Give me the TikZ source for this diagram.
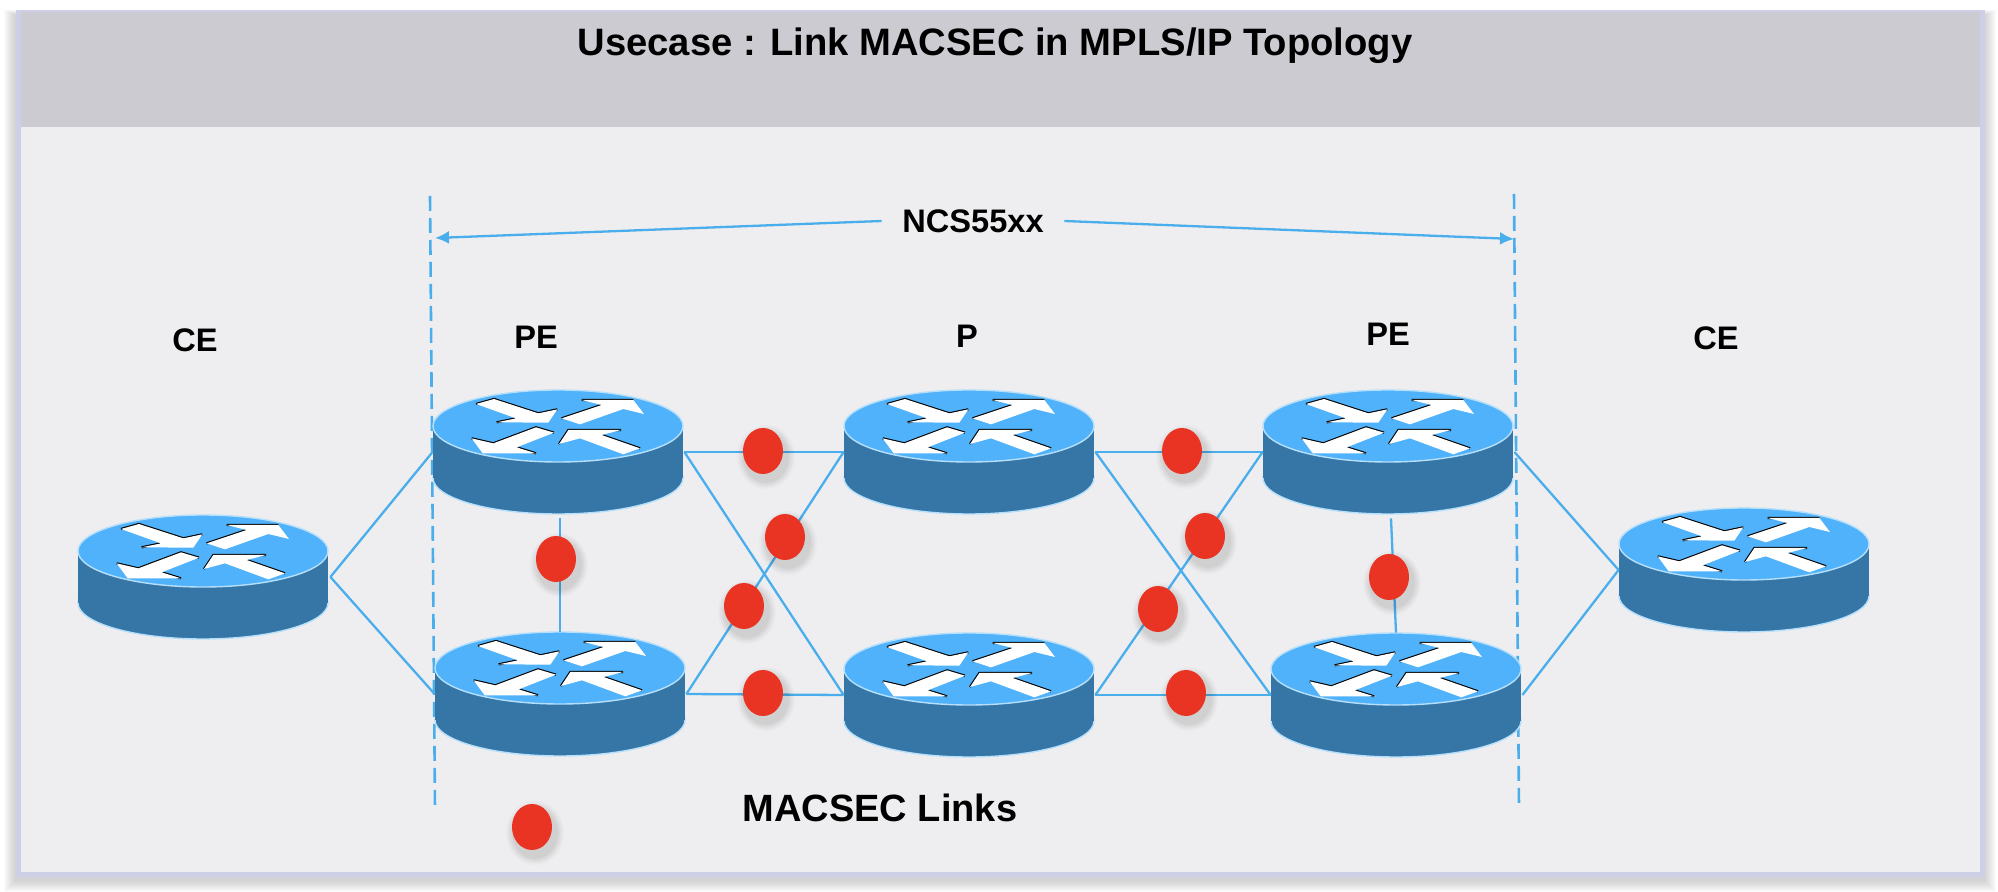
\documentclass[tikz,border=0pt]{standalone}
\usepackage{fontspec}
\setmainfont{Liberation Sans}
\usetikzlibrary{arrows.meta}
\definecolor{rtop}{HTML}{50B2FA}
\definecolor{rside}{HTML}{3576A7}
\definecolor{redge}{HTML}{B5DFFA}
\definecolor{lnk}{HTML}{4BAEEC}
\definecolor{dotred}{HTML}{EA3423}
\definecolor{hdr}{HTML}{CBCBD1}
\definecolor{bodybg}{HTML}{EEEEF0}
\definecolor{frm}{HTML}{CDCFE6}
\tikzset{
  routerbox/.style={inner sep=0pt,minimum width=125pt,minimum height=62pt},
  lbl/.style={font=\bfseries\fontsize{16.3}{18}\selectfont,inner sep=0pt},
  wire/.style={draw=lnk,line width=1.15pt},
  dashline/.style={draw=lnk,line width=1.3pt,dash pattern=on 7.5pt off 3.5pt},
  dim/.style={draw=lnk,line width=1.15pt,-{Latex[length=7pt,width=6.5pt]}},
  arrowfill/.style={fill=white},
  arrowedge/.style={draw=black,line width=1.1pt},
}
\newcommand{\router}[3]{%
  \node[routerbox] (#1) at (#2,#3) {};
  \begin{scope}[shift={(#2,#3)}]
    \fill[rside,draw=redge,line width=.7pt] (0,26) ellipse [x radius=125,y radius=36];
    \fill[rside] (-125,-26) rectangle (125,26);
    \fill[rtop,draw=redge,line width=.7pt] (0,-26) ellipse [x radius=125,y radius=36];
    \begin{scope}[shift={(-98,-67)},scale=1/3]
      \draw[arrowedge] (48,57)--(102,42)--(235,85)--(292,73) (110,112)--(168,100);
      \draw[arrowedge] (305,100)--(425,60) (365,45)--(520,45);
      \draw[arrowedge] (35,160)--(100,175)--(228,127)--(282,143) (170,187)--(228,205);
      \draw[arrowedge] (297,177)--(325,135)--(483,135) (425,150)--(540,190);
      \fill[arrowfill] (48,57)--(102,42)--(235,85)--(292,73)--(265,113)--(110,112)--(168,100)--cycle;
      \fill[arrowfill] (305,100)--(425,60)--(365,45)--(520,45)--(552,87)--(490,72)--(360,118)--cycle;
      \fill[arrowfill] (228,127)--(282,143)--(170,187)--(228,205)--(68,205)--(35,160)--(100,175)--cycle;
      \fill[arrowfill] (297,177)--(325,135)--(483,135)--(425,150)--(540,190)--(490,208)--(360,160)--cycle;
    \end{scope}
  \end{scope}
}
\newcommand{\reddot}[3]{%
  \foreach \e/\o in {9/.02,7/.03,5/.035,3/.04}{
    \fill[black,opacity=\o] (#2+3,#3+6) ellipse [x radius=20+\e,y radius=23+\e];
  }
  \node[inner sep=0pt,minimum size=0pt] (#1) at (#2,#3) {};
  \fill[dotred] (#1) ellipse [x radius=20,y radius=23];
}
\begin{document}
\begin{tikzpicture}[x=0.5pt,y=-0.5pt]
  \useasboundingbox (0,0) rectangle (1998,892);
  % frame and its soft shadow
  \foreach \e in {1,2,...,12}{
    \fill[black,opacity=.016] (16-\e,16-\e/2) rectangle (1984+\e,880+\e);
  }
  \fill[frm] (16,10) rectangle (1985,877);
  \fill[bodybg] (21,127) rectangle (1980,872);
  \fill[hdr] (21,12) rectangle (1980,127);
  \node[font=\bfseries\fontsize{19.1}{21}\selectfont,inner sep=0pt] (title) at (995,46) {Usecase : Link MACSEC in MPLS/IP Topology};

  % extent of the NCS55xx routers
  \coordinate (dlt) at (430,196);
  \coordinate (dlb) at (435,810);
  \coordinate (drt) at (1514,194);
  \coordinate (drb) at (1519,808);
  \draw[dashline] (dlt) -- (dlb);
  \draw[dashline] (drt) -- (drb);
  \node[lbl,minimum width=91pt,minimum height=20pt] (ncs) at (973,221) {NCS55xx};
  \coordinate (al) at (435,238);
  \coordinate (ar) at (1514,239);
  \draw[dim] (ncs.west) -- (al);
  \draw[dim] (ncs.east) -- (ar);

  % routers
  \router{cea}{203}{577}
  \router{pea}{558}{452}
  \router{pa}{969}{452}
  \router{peb}{1388}{452}
  \router{ceb}{1744}{570}
  \router{pec}{560}{694}
  \router{pb}{969}{695}
  \router{ped}{1396}{695}

  % links
  \draw[wire] ([xshift=1pt]cea.east) -- (pea.west);
  \draw[wire] ([xshift=1pt]cea.east) -- (pec.west);
  \draw[wire] ([xshift=.5pt]pea.east) -- (pa.west);
  \draw[wire] ([xshift=.5pt]pea.east) -- (pb.west);
  \draw[wire] ([xshift=.5pt]pec.east) -- (pa.west);
  \draw[wire] ([xshift=.5pt]pec.east) -- (pb.west);
  \draw[wire] ([xshift=.5pt]pa.east) -- (peb.west);
  \draw[wire] ([xshift=.5pt]pa.east) -- (ped.west);
  \draw[wire] ([xshift=.5pt]pb.east) -- (peb.west);
  \draw[wire] ([xshift=.5pt]pb.east) -- (ped.west);
  \draw[wire] ([xshift=.5pt]peb.east) -- (ceb.west);
  \draw[wire] ([xshift=.5pt]ped.east) -- (ceb.west);
  \draw[wire] ([xshift=1pt,yshift=-2pt]pea.south) -- (pec.north);
  \draw[wire] ([xshift=1.5pt,yshift=-2pt]peb.south) -- (ped.north);

  % MACSEC markers
  \reddot{d1}{556}{559}
  \reddot{d2}{763}{451}
  \reddot{d3}{785}{537}
  \reddot{d4}{744}{606}
  \reddot{d5}{763}{693}
  \reddot{d6}{1182}{451}
  \reddot{d7}{1205}{536}
  \reddot{d8}{1158}{609}
  \reddot{d9}{1186}{693}
  \reddot{d10}{1389}{577}
  \reddot{d11}{532}{827}

  % labels
  \node[lbl] (l1) at (195,340) {CE};
  \node[lbl] (l2) at (536,337) {PE};
  \node[lbl] (l3) at (967,336) {P};
  \node[lbl] (l4) at (1388,334) {PE};
  \node[lbl] (l5) at (1716,338) {CE};
  \node[font=\bfseries\fontsize{19}{21}\selectfont,inner sep=0pt] (l6) at (880,808) {MACSEC Links};
\end{tikzpicture}
\end{document}
